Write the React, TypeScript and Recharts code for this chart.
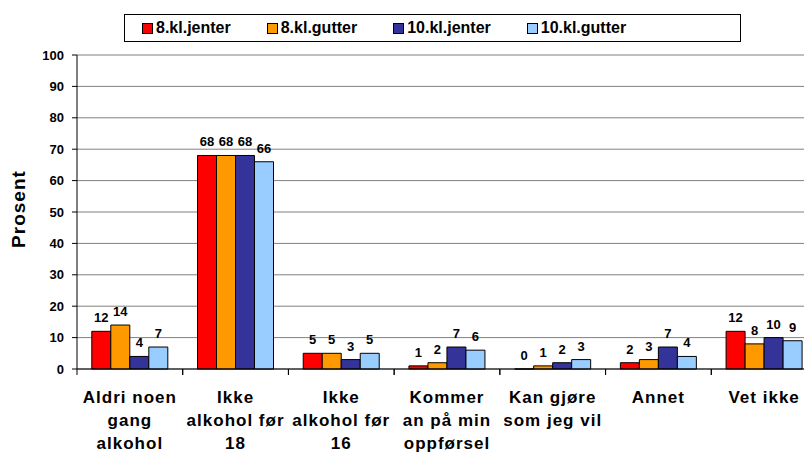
import { Bar, BarChart, CartesianGrid, Label, LabelList, XAxis, YAxis } from "recharts";

const categories = [
  "Aldri noen\ngang\nalkohol",
  "Ikke\nalkohol før\n18",
  "Ikke\nalkohol før\n16",
  "Kommer\nan på min\noppførsel",
  "Kan gjøre\nsom jeg vil",
  "Annet",
  "Vet ikke",
];

const jenter8 = [12, 68, 5, 1, 0, 2, 12];
const gutter8 = [14, 68, 5, 2, 1, 3, 8];
const jenter10 = [4, 68, 3, 7, 2, 7, 10];
const gutter10 = [7, 66, 5, 6, 3, 4, 9];

const yTicks = [0, 10, 20, 30, 40, 50, 60, 70, 80, 90, 100];

const series = [
  { key: "j8", name: "8.kl.jenter", color: "#FF0000" },
  { key: "g8", name: "8.kl.gutter", color: "#FF9900" },
  { key: "j10", name: "10.kl.jenter", color: "#333399" },
  { key: "g10", name: "10.kl.gutter", color: "#99CCFF" },
];

const data = categories.map((name, i) => ({
  name,
  j8: jenter8[i],
  g8: gutter8[i],
  j10: jenter10[i],
  g10: gutter10[i],
}));

const FONT = '"Liberation Sans", Arial, sans-serif';

// category labels + tick marks on the category boundaries
const CategoryTick = (props: any) => {
  const { x, y, payload, width, visibleTicksCount } = props;
  let half = payload && payload.offset ? payload.offset : 0;
  if (!half && width && visibleTicksCount) half = width / visibleTicksCount / 2;
  const lines = String(payload.value).split("\n");
  return (
    <g>
      <line x1={x - half} y1={y} x2={x - half} y2={y + 6} stroke="#000" strokeWidth={1} />
      <line x1={x + half} y1={y} x2={x + half} y2={y + 6} stroke="#000" strokeWidth={1} />
      <text
        x={x}
        y={y}
        textAnchor="middle"
        fontFamily={FONT}
        fontSize={17}
        fontWeight="bold"
        letterSpacing={1}
        fill="#000"
      >
        {lines.map((line, i) => (
          <tspan key={i} x={x} dy={i === 0 ? 34 : 23}>
            {line}
          </tspan>
        ))}
      </text>
    </g>
  );
};

const YTitle = (props: any) => {
  const { viewBox } = props;
  const cx = 18;
  const cy = viewBox.y + viewBox.height / 2 - 3;
  return (
    <text
      x={cx}
      y={cy}
      transform={`rotate(-90 ${cx} ${cy})`}
      textAnchor="middle"
      dominantBaseline="central"
      fontFamily={FONT}
      fontSize={19}
      fontWeight="bold"
      letterSpacing={1}
      fill="#000"
    >
      Prosent
    </text>
  );
};

const ValueLabel = (props: any) => {
  const { x, y, width, value } = props;
  return (
    <text
      x={x + width / 2}
      y={y - 9}
      textAnchor="middle"
      fontFamily={FONT}
      fontSize={13}
      fontWeight="bold"
      fill="#000"
    >
      {value}
    </text>
  );
};

const LegendBox = () => (
  <div
    style={{
      position: "absolute",
      left: 124,
      top: 14,
      width: 617,
      height: 28,
      boxSizing: "border-box",
      border: "1px solid #000",
      background: "#fff",
      display: "flex",
      alignItems: "center",
      paddingLeft: 17,
      gap: 36,
      fontFamily: FONT,
      fontSize: 16,
      fontWeight: "bold",
      color: "#000",
    }}
  >
    {series.map((s) => (
      <div key={s.key} style={{ display: "flex", alignItems: "center" }}>
        <span
          style={{
            display: "inline-block",
            width: 9,
            height: 9,
            border: "1px solid #000",
            background: s.color,
            marginRight: 3,
          }}
        />
        <span>{s.name}</span>
      </div>
    ))}
  </div>
);

export default function App() {
  return (
    <div
      style={{
        position: "absolute",
        left: 0,
        top: 0,
        width: 804,
        height: 453,
        overflow: "hidden",
        background: "#fff",
      }}
    >
      <BarChart
        width={830}
        height={453}
        data={data}
        margin={{ top: 55, right: 13, left: 0, bottom: 0 }}
        barCategoryGap="14%"
        barGap={0}
      >
        <CartesianGrid vertical={false} stroke="#808080" />
        <XAxis
          dataKey="name"
          interval={0}
          tick={<CategoryTick />}
          tickLine={false}
          axisLine={{ stroke: "#000" }}
          tickSize={0}
          tickMargin={0}
          height={84}
        />
        <YAxis
          domain={[0, 100]}
          ticks={yTicks}
          interval={0}
          width={77}
          tickSize={5}
          tickMargin={8}
          axisLine={{ stroke: "#000" }}
          tickLine={{ stroke: "#000" }}
          tick={{ fill: "#000", fontSize: 13, fontWeight: "bold", fontFamily: FONT }}
        >
          <Label content={<YTitle />} />
        </YAxis>
        {series.map((s) => (
          <Bar
            key={s.key}
            dataKey={s.key}
            name={s.name}
            fill={s.color}
            stroke="#000"
            strokeWidth={1}
            minPointSize={0.01}
            isAnimationActive={false}
          >
            <LabelList dataKey={s.key} content={<ValueLabel />} />
          </Bar>
        ))}
      </BarChart>
      <LegendBox />
    </div>
  );
}
